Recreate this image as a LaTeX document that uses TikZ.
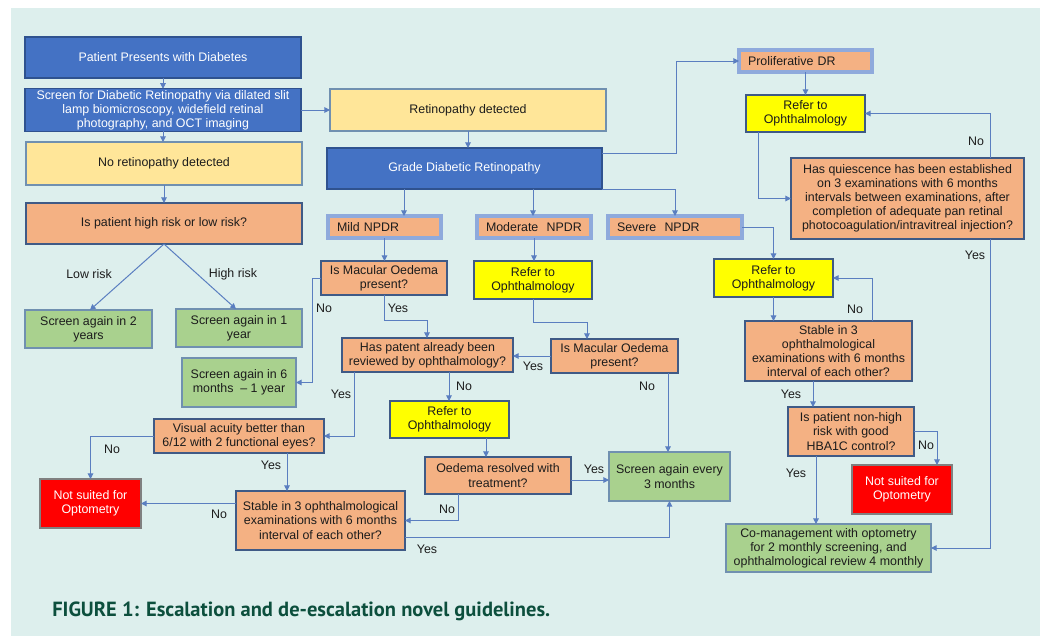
\documentclass[tikz,border=0pt]{standalone}
\usepackage{fontspec}
\usepackage{graphicx}
\setmainfont{Liberation Sans}
\newfontfamily\capfont{PT Sans}
\usetikzlibrary{arrows.meta,calc}
\definecolor{bgc}{HTML}{DDEFED}
\definecolor{cblue}{HTML}{4472C4}
\definecolor{cblueb}{HTML}{2F528F}
\definecolor{clyel}{HTML}{FFE699}
\definecolor{corg}{HTML}{F4B183}
\definecolor{cgrn}{HTML}{A9D18E}
\definecolor{cyel}{HTML}{FFFF00}
\definecolor{cred}{HTML}{FF0000}
\definecolor{cbord}{HTML}{3F5A86}
\definecolor{cgbord}{HTML}{7090B0}
\definecolor{cnp}{HTML}{8FAADC}
\definecolor{cline}{HTML}{5A7EC0}
\definecolor{txt}{HTML}{1C1C1C}
\definecolor{capc}{HTML}{0C4F3D}
\tikzset{
  base/.style={draw=cbord, line width=0.9pt, align=center, inner sep=1pt, outer sep=0pt,
    font=\fontsize{9.3}{10.6}\selectfont, text=txt},
  bluebox/.style={base, fill=cblue, draw=cblueb, text=white},
  lyelbox/.style={base, fill=clyel, draw=cgbord},
  orgbox/.style={base, fill=corg},
  grnbox/.style={base, fill=cgrn, draw=cgbord},
  yelbox/.style={base, fill=cyel},
  redbox/.style={base, fill=cred, draw=gray, text=white},
  npbox/.style={base, fill=corg, draw=cnp, line width=2.4pt, align=left},
  arr/.style={draw=cline, line width=0.75pt, -{Triangle[length=4.2pt,width=4.2pt]}},
  lbl/.style={font=\fontsize{9.3}{10.6}\selectfont, text=txt, inner sep=0pt},
}
\newcommand\mybox[7]{\node[#6, minimum width={(#4-#2)*0.75pt}, minimum height={(#5-#3)*0.75pt}] (#1) at ({(#2+#4)/2},{(#3+#5)/2}) {#7};}
\newcommand\mynpbox[6]{\node[npbox, minimum width={(#4-#2-2)*0.75pt}, minimum height={(#5-#3-2)*0.75pt}, text width={(#4-#2-20)*0.75pt}] (#1) at ({(#2+#4)/2},{(#3+#5)/2}) {#6};}
\begin{document}
\begin{tikzpicture}[x=0.75pt,y=-0.75pt]
\fill[white] (0,0) rectangle (1040,636);
\fill[bgc] (11,8) rectangle (1040,636);
\useasboundingbox (0,0) rectangle (1040,636);

\mybox{pat}{25}{37}{301}{78}{bluebox}{Patient Presents with Diabetes}
\mybox{scr}{25}{89}{301}{131}{bluebox}{Screen for Diabetic Retinopathy via dilated slit\\ lamp biomicroscopy, widefield retinal\\ photography, and OCT imaging}
\mybox{nor}{26}{142}{302}{185}{lyelbox}{No retinopathy detected}
\mybox{risk}{26}{203}{302}{244}{orgbox}{Is patient high risk or low risk?}
\mybox{ret}{330}{89}{606}{131}{lyelbox}{Retinopathy detected}
\mybox{grade}{327}{148}{602}{189}{bluebox}{Grade Diabetic Retinopathy}
\mynpbox{mild}{327}{215}{442}{239}{Mild NPDR}
\mynpbox{mod}{476}{215}{592}{239}{Moderate\ \ NPDR}
\mynpbox{sev}{607}{215}{743}{239}{Severe\ \ NPDR}
\mynpbox{pdr}{738}{49}{873}{73}{Proliferative DR}
\mybox{ref1}{746}{95}{865}{132}{yelbox}{Refer to\\ Ophthalmology}
\mybox{quies}{791}{158}{1024}{239}{orgbox}{Has quiescence has been established\\ on 3 examinations with 6 months\\ intervals between examinations, after\\ completion of adequate pan retinal\\ photocoagulation/intravitreal injection?}
\mybox{mq1}{321}{261}{447}{295}{orgbox}{Is Macular Oedema\\ present?}
\mybox{ref2}{474}{261}{592}{299}{yelbox}{Refer to\\ Ophthalmology}
\mybox{hasrev}{342}{338}{513}{372}{orgbox}{Has patent already been\\ reviewed by ophthalmology?}
\mybox{mq2}{551}{339}{678}{373}{orgbox}{Is Macular Oedema\\ present?}
\mybox{sc2}{25}{310}{152}{348}{grnbox}{Screen again in 2\\ years}
\mybox{sc1}{176}{309}{302}{347}{grnbox}{Screen again in 1\\ year}
\mybox{sc6}{182}{358}{296}{407}{grnbox}{Screen again in 6\\ months\ \ -- 1 year}
\mybox{ref3}{714}{259}{833}{297}{yelbox}{Refer to\\ Ophthalmology}
\mybox{stab3}{745}{321}{912}{381}{orgbox}{Stable in 3\\ ophthalmological\\ examinations with 6 months\\ interval of each other?}
\mybox{nonhigh}{788}{407}{914}{456}{orgbox}{Is patient non-high\\ risk with good\\ HBA1C control?}
\mybox{ns2}{852}{465}{952}{514}{redbox}{Not suited for\\ Optometry}
\mybox{coman}{726}{524}{931}{572}{grnbox}{Co-management with optometry\\ for 2 monthly screening, and\\ ophthalmological review 4 monthly}
\mybox{va}{154}{419}{324}{453}{orgbox}{Visual acuity better than\\ 6/12 with 2 functional eyes?}
\mybox{ns1}{40}{479}{141}{528}{redbox}{Not suited for\\ Optometry}
\mybox{stabL}{236}{491}{405}{550}{orgbox}{Stable in 3 ophthalmological\\ examinations with 6 months\\ interval of each other?}
\mybox{ref4}{390}{401}{509}{438}{yelbox}{Refer to\\ Ophthalmology}
\mybox{oed}{425}{457}{571}{494}{orgbox}{Oedema resolved with\\ treatment?}
\mybox{sc3m}{609}{452}{730}{501}{grnbox}{Screen again every\\ 3 months}

\draw[arr] (pat.south) -- (pat.south |- scr.north);
\draw[arr] (scr.south) -- (scr.south |- nor.north);
\draw[arr] (nor.south) -- (nor.south |- risk.north);
\draw[arr] (scr.east) -- (ret.west);
\draw[arr] (ret.south) -- (ret.south |- grade.north);
\draw[arr] (grade.east |- 0,153) -| (676,0 |- pdr.west) -- (pdr.west);
\draw[arr] (404,0 |- grade.south) -- (404,0 |- mild.north);
\draw[arr] (533,0 |- grade.south) -- (533,0 |- mod.north);
\draw[arr] (grade.south east) -| (675,0 |- sev.north);
\draw[arr] (pdr.south) -- (pdr.south |- ref1.north);
\draw[arr] (758,0 |- ref1.south) |- (quies.west);
\draw[arr] (990,0 |- quies.north) |- (ref1.east);
\draw[arr] (990,0 |- quies.south) |- (coman.east);
\draw[arr] (sev.east) -| (ref3.north);
\draw[arr] (ref3.south) -- (ref3.south |- stab3.north);
\draw[arr] (872,0 |- stab3.north) |- (ref3.east);
\draw[arr] (813,0 |- stab3.south) -- (813,0 |- nonhigh.north);
\draw[arr] (nonhigh.east) -| (937,0 |- ns2.north);
\draw[arr] (816,0 |- nonhigh.south) -- (816,0 |- coman.north);
\draw[arr] (risk.south) -- (90,0 |- sc2.north);
\draw[arr] (risk.south) -- (236,0 |- sc1.north);
\draw[arr] (mild.south) -- (mild.south |- mq1.north);
\draw[arr] (mq1.west) -- (312,0 |- mq1.west) |- (sc6.east);
\draw[arr] (mq1.south) |- (427,320) -- (427,0 |- hasrev.north);
\draw[arr] (mod.south) -- (mod.south |- ref2.north);
\draw[arr] (ref2.south) |- (587,322) -- (587,0 |- mq2.north);
\draw[arr] (mq2.west) -- (hasrev.east |- mq2.west);
\draw[arr] (668,0 |- mq2.south) -- (668,0 |- sc3m.north);
\draw[arr] (449,0 |- hasrev.south) -- (449,0 |- ref4.north);
\draw[arr] (354,0 |- hasrev.south) |- (va.east);
\draw[arr] (486,0 |- ref4.south) -- (486,0 |- oed.north);
\draw[arr] (oed.east |- 0,480) -- (sc3m.west |- 0,480);
\draw[arr] (458,0 |- oed.south) |- (stabL.east);
\draw[arr] (stabL.east |- 0,537) -| (sc3m.south);
\draw[arr] (stabL.west |- ns1.east) -- (ns1.east);
\draw[arr] (va.west) -| (ns1.north);
\draw[arr] (287,0 |- va.south) -- (287,0 |- stabL.north);

\node[lbl] (l1) at (976,141) {No};
\node[lbl] (l2) at (975,255) {Yes};
\node[lbl] (l3) at (855,309) {No};
\node[lbl] (l4) at (791,394) {Yes};
\node[lbl] (l5) at (926,445) {No};
\node[lbl] (l6) at (796,473) {Yes};
\node[lbl] (l7) at (89,274) {Low risk};
\node[lbl] (l8) at (233,274) {High risk};
\node[lbl] (l9) at (324,308) {No};
\node[lbl] (l10) at (398,308) {Yes};
\node[lbl] (l11) at (533,366) {Yes};
\node[lbl] (l12) at (647,386) {No};
\node[lbl] (l13) at (464,386) {No};
\node[lbl] (l14) at (341,394) {Yes};
\node[lbl] (l15) at (594,469) {Yes};
\node[lbl] (l16) at (447,509) {No};
\node[lbl] (l17) at (427,549) {Yes};
\node[lbl] (l18) at (219,514) {No};
\node[lbl] (l19) at (112,449) {No};
\node[lbl] (l20) at (271,465) {Yes};

\node[anchor=base west, text=capc, inner sep=0pt] (cap) at (52,616) {\resizebox{373.5pt}{!}{\capfont\bfseries FIGURE 1: Escalation and de-escalation novel guidelines.}};
\end{tikzpicture}
\end{document}
